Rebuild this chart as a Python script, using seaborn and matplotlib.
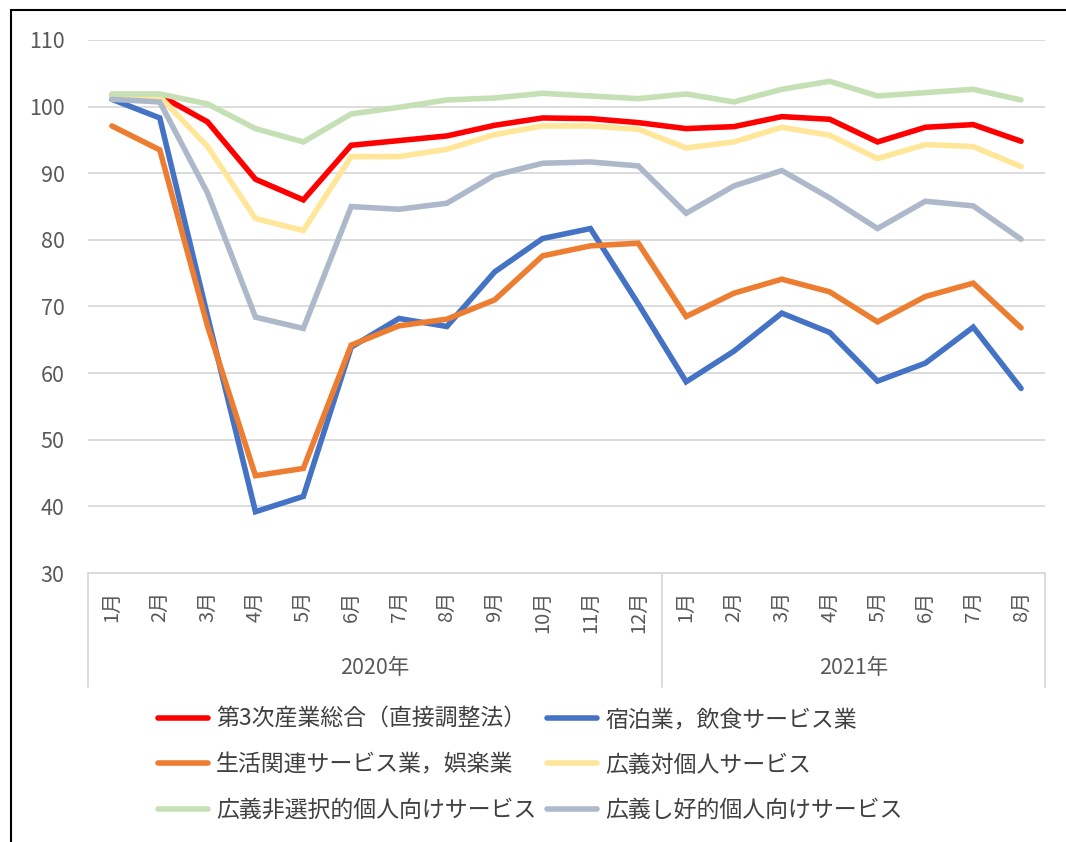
import numpy as np
import pandas as pd
import matplotlib
matplotlib.use("Agg")
import matplotlib.pyplot as plt
import seaborn as sns
from matplotlib.lines import Line2D
from matplotlib.patches import Rectangle

months = ["1月", "2月", "3月", "4月", "5月", "6月", "7月", "8月", "9月", "10月", "11月", "12月",
          "1月", "2月", "3月", "4月", "5月", "6月", "7月", "8月"]
years = ["2020年", "2021年"]
year_counts = [12, 8]

series_names = ["第3次産業総合（直接調整法）", "宿泊業，飲食サービス業", "生活関連サービス業，娯楽業",
                "広義対個人サービス", "広義非選択的個人向けサービス", "広義し好的個人向けサービス"]

tertiary = [101.7, 101.7, 97.7, 89.1, 86.0, 94.2, 94.9, 95.6, 97.2, 98.3, 98.2, 97.6,
            96.7, 97.0, 98.5, 98.1, 94.7, 96.9, 97.3, 94.8]
lodging = [101.1, 98.3, 68.5, 39.2, 41.5, 63.9, 68.2, 67.0, 75.2, 80.2, 81.7, 70.4,
           58.7, 63.3, 69.0, 66.1, 58.8, 61.5, 66.9, 57.7]
living = [97.1, 93.5, 67.0, 44.6, 45.7, 64.2, 67.1, 68.1, 71.0, 77.6, 79.1, 79.5,
          68.5, 72.0, 74.1, 72.2, 67.7, 71.5, 73.5, 66.8]
personal = [101.7, 101.5, 94.0, 83.2, 81.4, 92.5, 92.5, 93.6, 95.8, 97.1, 97.1, 96.6,
            93.8, 94.7, 96.9, 95.7, 92.2, 94.3, 94.0, 91.0]
nonselective = [101.9, 101.9, 100.4, 96.7, 94.7, 98.9, 99.9, 101.0, 101.3, 102.0, 101.6, 101.2,
                101.9, 100.7, 102.6, 103.8, 101.6, 102.1, 102.6, 101.0]
discretionary = [101.1, 100.7, 87.0, 68.4, 66.7, 85.0, 84.6, 85.5, 89.7, 91.5, 91.7, 91.1,
                 84.0, 88.1, 90.4, 86.3, 81.7, 85.8, 85.1, 80.1]

colors = ["#FF0000", "#4472C4", "#ED7D31", "#FFE699", "#C5E0B4", "#ADB9CA"]

values = [tertiary, lodging, living, personal, nonselective, discretionary]
rows = []
for name, vals in zip(series_names, values):
    for i, v in enumerate(vals):
        rows.append({"idx": i, "value": v, "series": name})
df = pd.DataFrame(rows)

sns.set_theme(style="white")
plt.rcParams["font.family"] = ["Noto Sans CJK JP", "DejaVu Sans"]

fig = plt.figure(figsize=(10.66, 8.42), dpi=100)
ax = fig.add_axes([88 / 1066, 1 - 573 / 842, (1045 - 88) / 1066, (573 - 40) / 842])

sns.lineplot(data=df, x="idx", y="value", hue="series", hue_order=series_names,
             palette=colors, linewidth=4.0, ax=ax, legend=False, sort=False)
for ln in ax.get_lines():
    ln.set_solid_capstyle("round")
    ln.set_solid_joinstyle("miter")

ax.set_xlim(-0.5, 19.5)
ax.set_ylim(30, 110)
ax.set_yticks(np.arange(30, 111, 10))
ax.yaxis.grid(True, color="#D9D9D9", linewidth=1.3)
ax.set_axisbelow(True)
for s in ["top", "right", "left"]:
    ax.spines[s].set_visible(False)
ax.spines["bottom"].set_color("#D9D9D9")
ax.spines["bottom"].set_linewidth(1.3)
ax.tick_params(axis="y", length=0, pad=17, labelsize=15.5, labelcolor="#595959")
ax.set_xticks(range(len(months)))
ax.set_xticklabels(months, rotation=90, va="top", ha="center")
ax.tick_params(axis="x", length=0, pad=13, labelsize=14.5, labelcolor="#595959")
ax.set_xlabel("")
ax.set_ylabel("")

# category separators and year labels
trans = ax.get_xaxis_transform()
depth = -(687 - 573) / 533
start = -0.5
bounds = [start]
for c in year_counts:
    bounds.append(bounds[-1] + c)
for b in bounds:
    ax.plot([b, b], [0, depth], transform=trans, color="#D9D9D9", linewidth=1.3, clip_on=False)
for i, y in enumerate(years):
    mid = (bounds[i] + bounds[i + 1]) / 2
    ax.text(mid, -(668 - 573) / 533, y, transform=trans, ha="center", va="center",
            fontsize=15.5, color="#595959")

# legend
handles = [Line2D([0], [0], color=c, linewidth=4.0, solid_capstyle="round") for c in colors]
order = [0, 2, 4, 1, 3, 5]
leg = fig.legend([handles[i] for i in order], [series_names[i] for i in order],
                 ncol=2, loc="center", bbox_to_anchor=(530 / 1066, 1 - 765 / 842),
                 frameon=False, fontsize=16.5, handlelength=2.2, handletextpad=0.35,
                 columnspacing=0.45, labelspacing=0.98)
for t in leg.get_texts():
    t.set_color("#404040")

# outer frame (partially cropped)
fig.patches.append(Rectangle((11 / 1066, -0.1), 1.2, 1 - 10 / 842 + 0.1,
                             transform=fig.transFigure, fill=False,
                             edgecolor="black", linewidth=1.5))

fig.savefig("out.png", dpi=100)
